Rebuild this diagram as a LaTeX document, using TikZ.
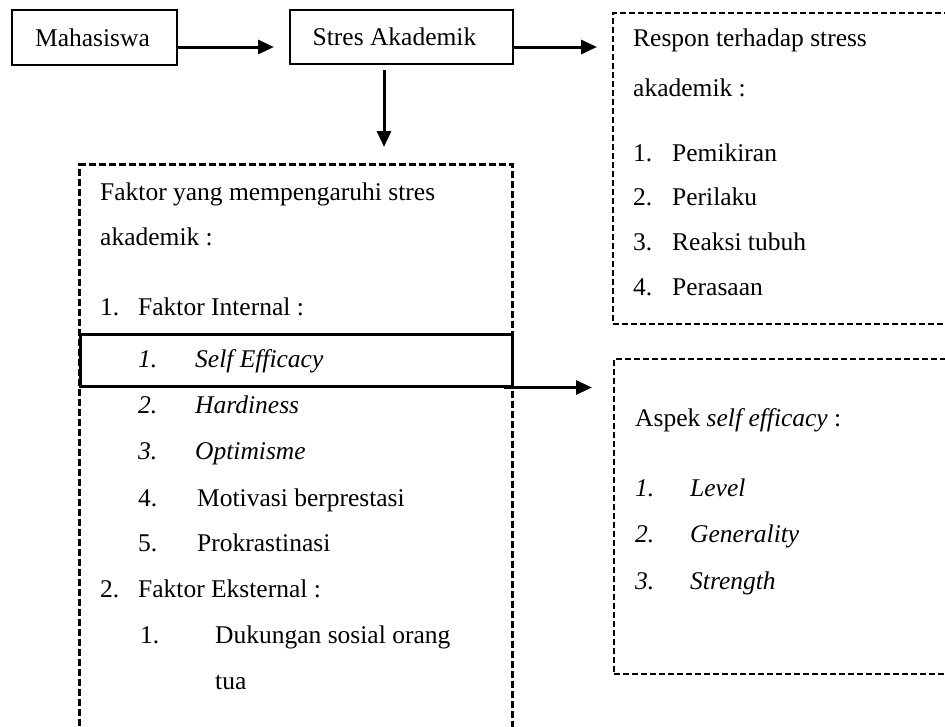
\documentclass[tikz,border=0pt]{standalone}
\usepackage{fontspec}
\setmainfont{Liberation Serif}
\usetikzlibrary{arrows.meta,calc}
\begin{document}
\begin{tikzpicture}[x=1pt,y=-1pt, font=\fontsize{25.5}{30}\selectfont,
  solidbox/.style={draw, line width=2pt, inner sep=0pt, anchor=north west},
  dbox/.style={draw, line width=2pt, dash pattern=on 6pt off 3pt, inner sep=0pt, anchor=north west},
  fbox/.style={draw, line width=3pt, dash pattern=on 7pt off 3pt, inner sep=0pt, anchor=north west},
  txt/.style={anchor=base west, inner sep=0pt},
  itx/.style={anchor=base west, inner sep=0pt, font=\fontsize{25.5}{30}\selectfont\itshape},
  arr/.style={line width=3pt, -{Triangle[length=16pt,width=14pt]}}]
\useasboundingbox (0,0) rectangle (945,726);
\clip (0,0) rectangle (945,726);

% boxes
\node[solidbox, minimum width=165pt, minimum height=55pt] (mhs) at (11,9) {\hspace*{-4pt}Mahasiswa};
\node[solidbox, minimum width=223pt, minimum height=54pt] (stres) at (289,9) {\hspace*{-14pt}Stres Akademik};
\node[dbox, minimum width=400pt, minimum height=311pt] (respon) at (612,12) {};
\node[dbox, minimum width=400pt, minimum height=315pt] (aspek) at (613,358) {};
\node[fbox, minimum width=433pt, minimum height=620pt] (faktor) at (78,163) {};
\node[draw, line width=2.5pt, inner sep=0pt, anchor=north west, minimum width=432pt, minimum height=52pt] (se) at (79,333) {};

% connectors
\coordinate (ay) at (0,47);
\coordinate (dx) at (384,0);
\draw[arr, shorten >=15pt] (mhs.east |- ay) -- (stres.west |- ay);
\draw[arr, shorten >=15pt] (stres.east |- ay) -- (respon.west |- ay);
\draw[arr, shorten <=5pt, shorten >=16pt] (stres.south -| dx) -- (faktor.north -| dx);
\draw[arr, shorten >=21pt] ([xshift=-10pt]se.south east) -- (aspek.west |- se.south);

% respon text
\node[txt] (r0) at (633,46) {Respon terhadap stress};
\node[txt] (r1) at (633,96) {akademik :};
\node[txt] (r2n) at (633,161) {1.};
\node[txt] (r2) at (672,161) {Pemikiran};
\node[txt] (r3n) at (633,205) {2.};
\node[txt] (r3) at (672,205) {Perilaku};
\node[txt] (r4n) at (633,250) {3.};
\node[txt] (r4) at (672,250) {Reaksi tubuh};
\node[txt] (r5n) at (633,295) {4.};
\node[txt] (r5) at (672,295) {Perasaan};

% faktor text
\node[txt] (f0) at (100,200) {Faktor yang mempengaruhi stres};
\node[txt] (f1) at (100,245) {akademik :};
\node[txt] (f2n) at (100,315) {1.};
\node[txt] (f2) at (138,315) {Faktor Internal :};
\node[itx] (f3n) at (138,367) {1.};
\node[itx] (f3) at (195,367) {Self Efficacy};
\node[itx] (f4n) at (138,413) {2.};
\node[itx] (f4) at (195,413) {Hardiness};
\node[itx] (f5n) at (138,459) {3.};
\node[itx] (f5) at (195,459) {Optimisme};
\node[txt] (f6n) at (138,506) {4.};
\node[txt] (f6) at (197,506) {Motivasi berprestasi};
\node[txt] (f7n) at (138,551) {5.};
\node[txt] (f7) at (197,551) {Prokrastinasi};
\node[txt] (f8n) at (100,597) {2.};
\node[txt] (f8) at (138,597) {Faktor Eksternal :};
\node[txt] (f9n) at (140,643) {1.};
\node[txt] (f9) at (215,643) {Dukungan sosial orang};
\node[txt] (f10) at (215,689) {tua};

% aspek text
\node[txt] (a0) at (635,426) {Aspek \textit{self efficacy} :};
\node[itx] (a1n) at (635,496) {1.};
\node[itx] (a1) at (690,496) {Level};
\node[itx] (a2n) at (635,542) {2.};
\node[itx] (a2) at (690,542) {Generality};
\node[itx] (a3n) at (635,589) {3.};
\node[itx] (a3) at (690,589) {Strength};
\end{tikzpicture}
\end{document}
